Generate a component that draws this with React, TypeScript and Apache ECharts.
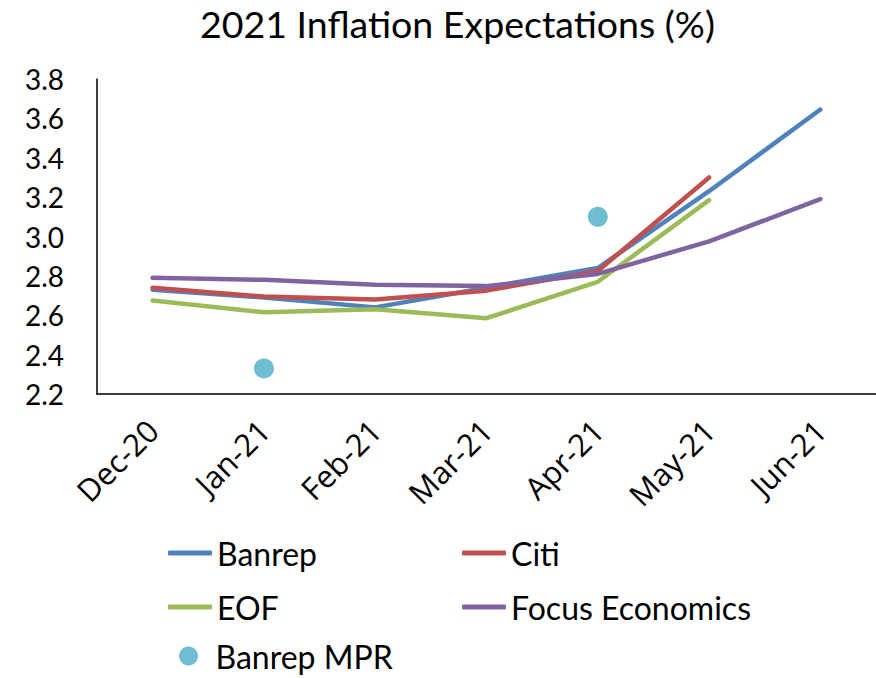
import React, { useEffect, useRef } from "react";
import * as echarts from "echarts";

const categories = ["Dec-20", "Jan-21", "Feb-21", "Mar-21", "Apr-21", "May-21", "Jun-21"];
const banrep = [2.73, 2.69, 2.64, 2.74, 2.84, 3.23, 3.645];
const citi = [2.74, 2.695, 2.68, 2.725, 2.825, 3.3, null];
const eof = [2.675, 2.615, 2.63, 2.585, 2.77, 3.185, null];
const focus = [2.79, 2.78, 2.755, 2.748, 2.81, 2.975, 3.19];
const banrepMpr = [null, 2.33, null, null, 3.1, null, null];

const FONT = "Lato";

export default function App() {
  const ref = useRef<HTMLDivElement>(null);
  useEffect(() => {
    document.body.style.margin = "0";
    const chart = echarts.init(ref.current!, null, { renderer: "svg" });
    const lineSeries = (name: string, data: any[], color: string) => ({
      name,
      type: "line",
      data,
      symbol: "none",
      showSymbol: false,
      connectNulls: false,
      lineStyle: { color, width: 4.5, cap: "round", join: "round" },
      itemStyle: { color },
    });
    const legendText = { fontFamily: FONT, fontSize: 32, lineHeight: 32, color: "#000" };
    const mkLegend = (name: string, left: number, top: number, circle?: boolean) => ({
      data: [{ name, icon: circle ? "circle" : "roundRect" }],
      left,
      top,
      itemWidth: 44,
      itemHeight: circle ? 19 : 5,
      itemGap: 0,
      padding: 0,
      textStyle: legendText,
      selectedMode: false,
    });
    chart.setOption({
      animation: false,
      title: {
        text: "2021 Inflation Expectations (%)",
        left: 200,
        top: 4,
        padding: 0,
        textStyle: { fontFamily: FONT, fontSize: 37.5, fontWeight: "normal", color: "#000" },
      },
      grid: { left: 97, top: 79, width: 785, height: 315, containLabel: false },
      legend: [
        mkLegend("Banrep", 168, 537),
        mkLegend("Citi", 462, 537),
        mkLegend("EOF", 168, 591),
        mkLegend("Focus Economics", 462, 591),
        mkLegend("Banrep MPR", 179, 640, true),
      ],
      xAxis: {
        type: "category",
        data: categories,
        boundaryGap: true,
        axisLine: { show: true, lineStyle: { color: "#000", width: 1.5 } },
        axisTick: { show: false },
        axisLabel: {
          rotate: 45,
          margin: 31,
          fontFamily: "Open Sans",
          fontSize: 31,
          color: "#000",
          interval: 0,
        },
      },
      yAxis: {
        type: "value",
        min: 2.2,
        max: 3.8,
        interval: 0.2,
        splitLine: { show: false },
        axisLine: { show: true, lineStyle: { color: "#000", width: 1.5 } },
        axisTick: { show: false },
        axisLabel: {
          margin: 33,
          fontFamily: FONT,
          fontSize: 28,
          color: "#000",
          formatter: (v: number) => v.toFixed(1),
        },
      },
      series: [
        lineSeries("Banrep", banrep, "#4F81BD"),
        lineSeries("Citi", citi, "#C0504D"),
        lineSeries("EOF", eof, "#9BBB59"),
        lineSeries("Focus Economics", focus, "#8064A2"),
        {
          name: "Banrep MPR",
          type: "scatter",
          data: banrepMpr,
          symbol: "circle",
          symbolSize: 20,
          itemStyle: { color: "#4BACC6" },
        },
      ],
    });
    return () => chart.dispose();
  }, []);
  return <div ref={ref} style={{ width: 876, height: 678 }} />;
}
